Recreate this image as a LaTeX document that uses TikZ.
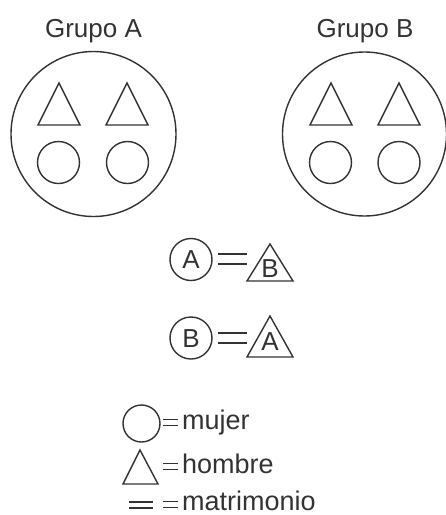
\documentclass[tikz,border=0pt]{standalone}
\usepackage{fontspec}
\setmainfont{Liberation Sans}
\definecolor{ink}{HTML}{333333}
\begin{document}
\begin{tikzpicture}[x=1pt,y=-1pt,
  ln/.style={draw=ink,line width=1.4pt},
  thin ln/.style={draw=ink,line width=0.9pt},
  title/.style={text=ink,anchor=base,inner sep=0pt,font=\fontsize{26}{29}\selectfont},
  legend/.style={text=ink,anchor=base west,inner sep=0pt,text depth=0pt,font=\fontsize{27}{30}\selectfont},
  letter/.style={text=ink,anchor=base,inner sep=0pt,font=\fontsize{26}{29}\selectfont},
  ring/.style={ln,circle,inner sep=0pt,minimum size=#1},
  tri/.pic={\draw[ln] (-21,42) -- (0,0) -- (21,42) -- cycle;},
]
\useasboundingbox (0,0) rectangle (446,515);

% group titles
\node[title] (tA) at (93.5,37.5) {Grupo A};
\node[title] (tB) at (365,37.5) {Grupo B};

% group circles
\node[ring=165pt] (gA) at (93.5,134) {};
\node[ring=164pt] (gB) at (364.5,134) {};

% members: men (triangles) and women (circles)
\foreach \x in {59,127,331,399} {
  \pic at (\x,83) {tri};
}
\foreach \x/\n in {58.5/a1,127.5/a2,330.5/b1,399/b2} {
  \node[ring=42pt] (w\n) at (\x,162.5) {};
}

% marriage rules
\node[ring=42pt] (cA) at (191,259.5) {};
\node[letter] at (191,268.5) {A};
\draw[ln] (218,254) -- (247,254) (218,264) -- (247,264);
\draw[ln] (247,281) -- (270,244) -- (293,281) -- cycle;
\node[letter] at (270,277) {B};

\node[ring=42pt] (cB) at (191,338) {};
\node[letter] at (191,347) {B};
\draw[ln] (218,333) -- (247,333) (218,343) -- (247,343);
\draw[ln] (247,357) -- (270,316) -- (293,357) -- cycle;
\node[letter] at (270,350) {A};

% legend
\node[ring=37pt] (lw) at (141.5,423.5) {};
\draw[thin ln] (163,419) -- (178,419) (163,425) -- (178,425);
\node[legend] (tw) at (182,429) {mujer};

\draw[ln] (123,484) -- (140,450) -- (158,484) -- cycle;
\draw[thin ln] (163,463) -- (178,463) (163,469) -- (178,469);
\node[legend] (th) at (182,473) {hombre};

\draw[ln] (129,502) -- (153,502) (129,508) -- (153,508);
\draw[thin ln] (163,501) -- (178,501) (163,507) -- (178,507);
\node[legend] (tm) at (182,510) {matrimonio};
\end{tikzpicture}
\end{document}
